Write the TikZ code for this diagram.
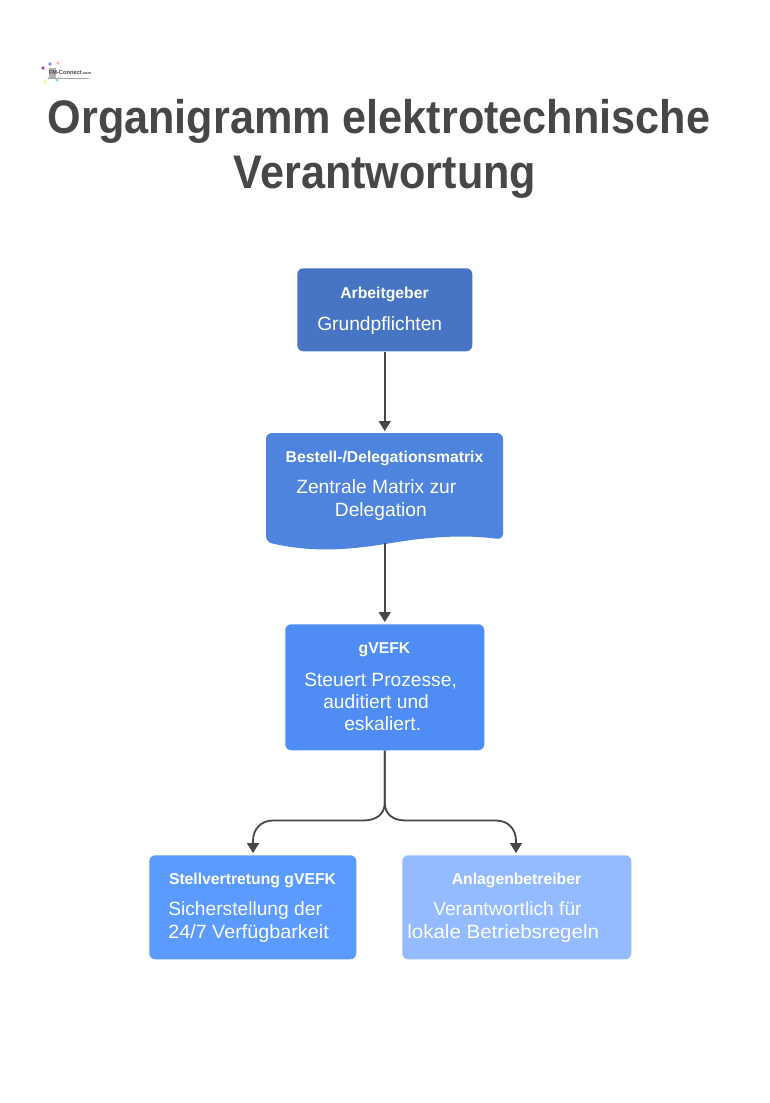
\documentclass[tikz,border=0pt]{standalone}
\usepackage{fontspec}
\setmainfont{Liberation Sans}
\usetikzlibrary{arrows.meta,calc}
\definecolor{ink}{HTML}{474747}
\definecolor{cA}{HTML}{4775C4}
\definecolor{cB}{HTML}{4F84DE}
\definecolor{cC}{HTML}{4F8DF5}
\definecolor{cD}{HTML}{5B9BFF}
\definecolor{cE}{HTML}{94BAFF}
\tikzset{
 x=0.75pt,y=-0.75pt,
 orgbox/.style={rectangle,rounded corners=4.5pt,inner sep=0pt,anchor=north west},
 head/.style={font=\bfseries\fontsize{11.8pt}{14pt}\selectfont,text=white,inner sep=0pt},
 body/.style={font=\fontsize{14.4pt}{16.6pt}\selectfont,text=white,inner sep=0pt,align=left,anchor=west},
 titletext/.style={font=\bfseries\fontsize{32.4pt}{40pt}\selectfont,text=ink,inner sep=0pt,anchor=base},
 conn/.style={draw=ink,line width=1.35pt,shorten >=1.5pt,-{Triangle[length=7.5pt,width=9pt]}},
 logoline/.style={draw=blue!12,line width=0.3pt},
}
\begin{document}
\begin{tikzpicture}
\useasboundingbox (0,0) rectangle (769,1103);
\fill[white] (0,0) rectangle (769,1103);
% logo
\coordinate (lc) at (52,73);
\foreach \px/\py/\pc in {50/64/blue!45,58/63/red!25,43/68/violet!70,45/82/yellow!50,57/80/cyan!45}{
  \draw[logoline] (lc) -- (\px,\py);
  \fill[\pc] (\px,\py) circle (1.8);
}
\fill[black!30] (49,68) rectangle (56,78);
\node[inner sep=0pt,anchor=west,text=black!70] (logo) at (48.5,72.5) {\fontsize{4.3pt}{5pt}\selectfont\bfseries FM-Connect\fontsize{3pt}{5pt}\selectfont .com};
\draw[black!35,line width=0.7pt] (48,78.5) -- (89,78.5);
% title
\node[titletext] (t1) at (379,133) {\scalebox{1}[1.09]{Organigramm elektrotechnische}};
\node[titletext] (t2) at (385,188) {\scalebox{1}[1.09]{Verantwortung}};
% boxes
\node[orgbox,fill=cA,minimum width=131.25pt,minimum height=62.25pt] (a) at (297,268) {};
\node[head] (a1) at (384.5,294.5) {Arbeitgeber};
\node[body] (a2) at (317,325.5) {Grundpflichten};

\fill[cB,rounded corners=4.5pt] (266,433) -- (503,433) -- (503,539.5)
  .. controls (475,536) and (455,536) .. (430,538)
  .. controls (385,542) and (335,558) .. (266,542) -- cycle;
\coordinate (bTop) at (384.5,433);
\coordinate (bBottom) at (384.5,543);
\node[head] (b1) at (384.5,458.5) {Bestell-/Delegationsmatrix};
\node[body] (b2) at (296,500) {Zentrale Matrix zur\\\hspace*{29pt}Delegation};

\node[orgbox,fill=cC,minimum width=149.25pt,minimum height=94.5pt] (c) at (285,624) {};
\node[head] (c1) at (384.5,649.5) {gVEFK};
\node[body] (c2) at (304,702) {Steuert Prozesse,\\\hspace*{14.25pt}auditiert und\\\hspace*{30pt}eskaliert.};
\coordinate (cj) at ($(c.south)+(0,52)$);

\node[orgbox,fill=cD,minimum width=155.25pt,minimum height=78pt] (d) at (149,855) {};
\node[head] (d1) at (252.5,880.5) {Stellvertretung gVEFK};
\node[body] (d2) at (168,922) {Sicherstellung der\\\scalebox{1.03}[1]{24/7 Verfügbarkeit}};

\node[orgbox,fill=cE,minimum width=171.75pt,minimum height=78pt] (e) at (402,855) {};
\node[head] (e1) at (516.5,880.5) {Anlagenbetreiber};
\node[body] (e2) at (407,922) {\hspace*{19.5pt}Verantwortlich für\\\scalebox{1.07}[1]{lokale Betriebsregeln}};

% connectors
\draw[conn] (a.south) -- (a.south |- bTop);
\draw[conn] (bBottom -| c.north) -- (c.north);
\draw[conn] (c.south) -- (cj) .. controls +(0,12) and (376,820.5) .. (363,820.5)
  -- (273,820.5) .. controls (261,820.5) and (253,829) .. (253,841) -- (d.north -| 253,0);
\draw[conn] (c.south) -- (cj) .. controls +(0,12) and (393,820.5) .. (406,820.5)
  -- (496,820.5) .. controls (508,820.5) and (516,829) .. (516,841) -- (e.north -| 516,0);
\end{tikzpicture}
\end{document}
